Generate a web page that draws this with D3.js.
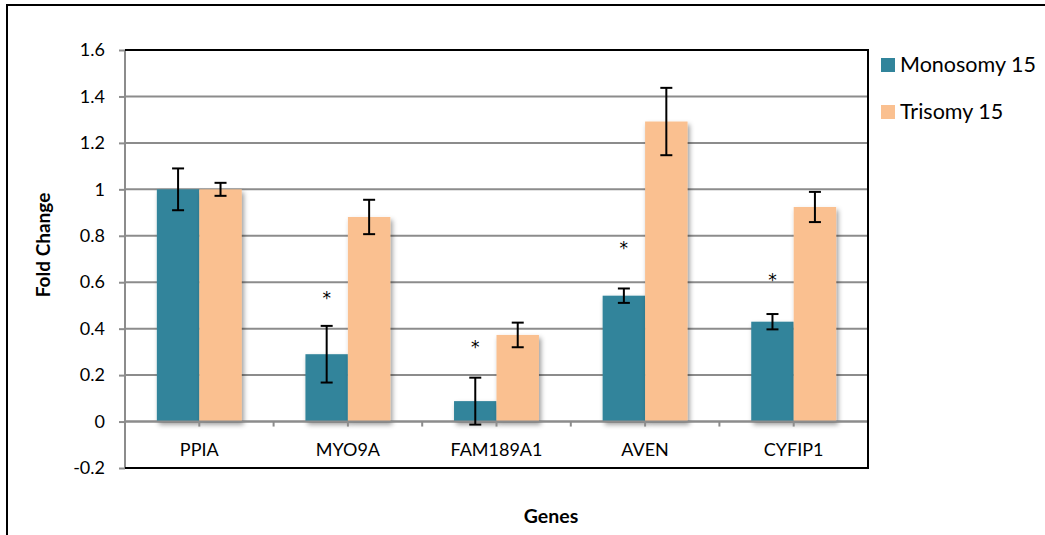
<!DOCTYPE html>
<html>
<head>
<meta charset="utf-8">
<script src="https://cdn.jsdelivr.net/npm/d3@7"></script>
<style>
  html, body { margin: 0; padding: 0; background: #fff; }
  svg { display: block; font-family: Lato, "Open Sans", sans-serif; }
</style>
</head>
<body>
<svg id="chart" width="1045" height="535"></svg>
<script>
// Gene expression fold change, monosomy vs trisomy 15
const genes = ["PPIA", "MYO9A", "FAM189A1", "AVEN", "CYFIP1"];
const seriesNames = ["Monosomy 15", "Trisomy 15"];
const monosomy = [1.0, 0.29, 0.088, 0.542, 0.43];
const monosomyErr = [0.09, 0.122, 0.101, 0.031, 0.033];
const trisomy = [1.0, 0.881, 0.373, 1.292, 0.924];
const trisomyErr = [0.028, 0.074, 0.053, 0.145, 0.065];
// significance markers drawn above the monosomy bars (null = none)
const starLevel = [null, 0.549, 0.338, 0.764, 0.624];
const yTicks = [-0.2, 0, 0.2, 0.4, 0.6, 0.8, 1, 1.2, 1.4, 1.6];

const colors = ["#31849b", "#fac090"];
const svg = d3.select("#chart");

// outer chart frame
svg.append("path")
  .attr("d", "M7,540 L7,5 L1050,5")
  .attr("fill", "none").attr("stroke", "#000").attr("stroke-width", 2);

const plot = { left: 125, top: 50, right: 868, bottom: 468 };

const y = d3.scaleLinear().domain([-0.2, 1.6]).range([plot.bottom, plot.top]);
// gap width of 150%: bars occupy 2 / 3.5 of each category slot
const slot = (plot.right - plot.left) / genes.length;
const barW = slot / 3.5;

// drop shadow for bars
const defs = svg.append("defs");
const f = defs.append("filter").attr("id", "shadow")
  .attr("x", "-20%").attr("y", "-20%").attr("width", "150%").attr("height", "150%");
f.append("feDropShadow").attr("dx", 2).attr("dy", 3).attr("stdDeviation", 2.5)
  .attr("flood-color", "#000").attr("flood-opacity", 0.4);

// horizontal gridlines
svg.append("g").selectAll("line")
  .data(yTicks.filter(t => t !== -0.2 && t !== 1.6))
  .join("line")
  .attr("x1", plot.left).attr("x2", plot.right)
  .attr("y1", d => y(d)).attr("y2", d => y(d))
  .attr("stroke", "#8c8c8c").attr("stroke-width", 2);

// y axis
const yAxis = svg.append("g")
  .attr("transform", `translate(${plot.left},0)`)
  .call(d3.axisLeft(y).tickValues(yTicks).tickSize(6).tickPadding(14)
    .tickFormat(d => String(+d.toFixed(1))));
yAxis.select(".domain").remove();
yAxis.selectAll(".tick line").attr("stroke", "#8c8c8c").attr("stroke-width", 2);
yAxis.selectAll(".tick text").attr("font-size", 18).attr("fill", "#000")
  .attr("font-family", "Lato, sans-serif");

svg.append("line")
  .attr("x1", plot.left).attr("x2", plot.left)
  .attr("y1", plot.top).attr("y2", plot.bottom)
  .attr("stroke", "#8c8c8c").attr("stroke-width", 2);

// bars
const xCenter = i => plot.left + slot * (i + 0.5);
const series = [
  { name: seriesNames[0], vals: monosomy, errs: monosomyErr, off: -1 },
  { name: seriesNames[1], vals: trisomy, errs: trisomyErr, off: 0 }
];
series.forEach((s, si) => {
  svg.append("g").attr("filter", "url(#shadow)").selectAll("rect")
    .data(s.vals)
    .join("rect")
    .attr("x", (d, i) => xCenter(i) + s.off * barW)
    .attr("width", barW)
    .attr("y", d => y(Math.max(0, d)))
    .attr("height", d => Math.abs(y(d) - y(0)))
    .attr("fill", colors[si]);
});

// zero line with half-category tick marks
svg.append("line")
  .attr("x1", plot.left).attr("x2", plot.right)
  .attr("y1", y(0)).attr("y2", y(0))
  .attr("stroke", "#8c8c8c").attr("stroke-width", 2);
svg.append("g").selectAll("line")
  .data(d3.range(1, genes.length * 2 + 1))
  .join("line")
  .attr("x1", k => plot.left + slot * k / 2).attr("x2", k => plot.left + slot * k / 2)
  .attr("y1", y(0)).attr("y2", y(0) + 5)
  .attr("stroke", "#8c8c8c").attr("stroke-width", 2);

// error bars
const capW = 12;
series.forEach(s => {
  const g = svg.append("g").attr("stroke", "#000").attr("stroke-width", 2);
  s.vals.forEach((v, i) => {
    const cx = xCenter(i) + s.off * barW + barW / 2;
    const hi = y(v + s.errs[i]), lo = y(v - s.errs[i]);
    g.append("line").attr("x1", cx).attr("x2", cx).attr("y1", hi).attr("y2", lo);
    g.append("line").attr("x1", cx - capW / 2).attr("x2", cx + capW / 2).attr("y1", hi).attr("y2", hi);
    g.append("line").attr("x1", cx - capW / 2).attr("x2", cx + capW / 2).attr("y1", lo).attr("y2", lo);
  });
});

// significance asterisks
svg.append("g").selectAll("text")
  .data(starLevel.map((v, i) => ({ v, i })).filter(d => d.v !== null))
  .join("text")
  .attr("x", d => xCenter(d.i) - barW / 2)
  .attr("y", d => y(d.v))
  .attr("dy", "0.57em")
  .attr("text-anchor", "middle")
  .attr("font-family", "'DejaVu Sans', sans-serif")
  .attr("font-size", 17)
  .text("*");

// category labels
svg.append("g").selectAll("text")
  .data(genes)
  .join("text")
  .attr("x", (d, i) => xCenter(i))
  .attr("y", 456)
  .attr("text-anchor", "middle")
  .attr("font-size", 18)
  .text(d => d);

// plot area frame (top, right, bottom)
svg.append("path")
  .attr("d", `M${plot.left},${plot.top} L${plot.right},${plot.top} L${plot.right},${plot.bottom} L${plot.left},${plot.bottom}`)
  .attr("fill", "none").attr("stroke", "#000").attr("stroke-width", 2);

// axis titles
svg.append("text")
  .attr("x", 551).attr("y", 523)
  .attr("text-anchor", "middle")
  .attr("font-size", 19.5).attr("font-weight", "bold")
  .text("Genes");
svg.append("text")
  .attr("transform", "translate(50,245) rotate(-90)")
  .attr("text-anchor", "middle")
  .attr("font-size", 19).attr("font-weight", "bold")
  .text("Fold Change");

// legend
const legend = svg.append("g");
seriesNames.forEach((name, i) => {
  const yy = 58 + i * 47;
  legend.append("rect").attr("x", 881).attr("y", yy).attr("width", 14).attr("height", 14).attr("fill", colors[i]);
  legend.append("text").attr("x", 900).attr("y", yy + 14).attr("font-size", 21.5).text(name);
});
</script>
</body>
</html>
